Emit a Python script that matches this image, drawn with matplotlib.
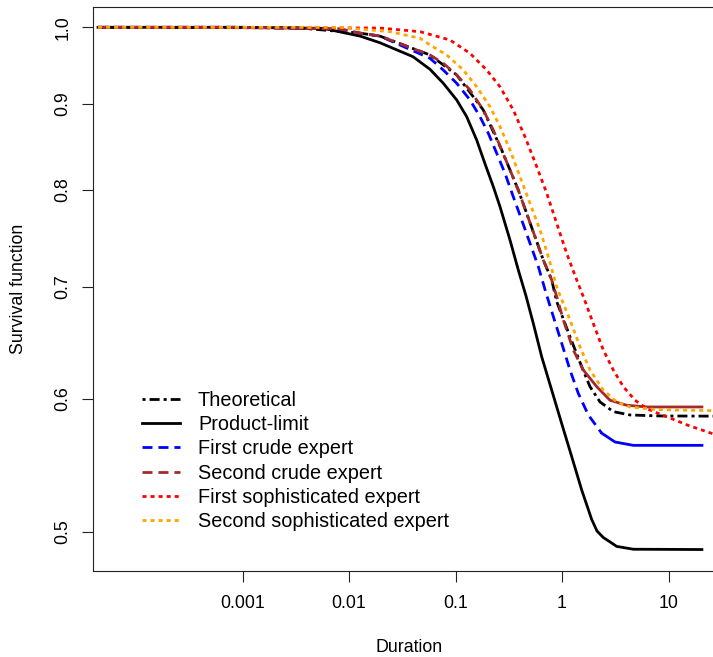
import matplotlib
matplotlib.use('Agg')
import matplotlib.pyplot as plt
from matplotlib.lines import Line2D
from matplotlib.ticker import NullLocator, FixedLocator, FixedFormatter

plt.rcParams['font.family'] = ['Liberation Sans', 'DejaVu Sans']
plt.rcParams['lines.scale_dashes'] = False

# ---------------- data ----------------
theo_x = [4.4e-5, 9.5e-4, 0.00347, 0.0127, 0.0195, 0.0576, 0.1026, 0.1824, 0.2716, 0.3888,
          0.5578, 0.6675, 0.8002, 0.8917, 1.189, 1.531, 1.832, 2.274, 3.032, 4.350, 8.323, 40.0]
theo_y = [1.0, 0.9995, 0.999, 0.992, 0.988, 0.9627, 0.9366, 0.8926, 0.8448, 0.7996,
          0.7499, 0.7263, 0.7067, 0.6860, 0.6536, 0.6272, 0.6103, 0.5976, 0.5897, 0.5870, 0.5862, 0.586]

pl_x = [4.4e-5, 9.5e-4, 0.0057, 0.0127, 0.0195, 0.0399, 0.0576, 0.0768, 0.1026, 0.1274,
        0.1581, 0.1892, 0.2264, 0.2618, 0.3249, 0.3888, 0.4592, 0.5377, 0.6447, 0.8002,
        0.9935, 1.233, 1.531, 1.900, 2.13, 2.443, 2.83, 3.263, 4.673, 20.6]
pl_y = [1.0, 1.0, 0.9986, 0.988, 0.979, 0.9604, 0.9439, 0.9260, 0.9050, 0.8844,
        0.8565, 0.8290, 0.8034, 0.7815, 0.7465, 0.7164, 0.6913, 0.6657, 0.6359, 0.6074,
        0.5801, 0.5544, 0.5295, 0.5085, 0.5005, 0.4960, 0.4930, 0.4900, 0.4881, 0.4879]

c1_x = [4.4e-5, 9.5e-4, 0.0082, 0.0127, 0.0195, 0.0576, 0.0768, 0.1026, 0.1368, 0.1698,
        0.2032, 0.2436, 0.2916, 0.3488, 0.4183, 0.5006, 0.5989, 0.7077, 0.8285, 0.9935,
        1.189, 1.422, 1.766, 2.359, 3.146, 4.673, 20.6]
c1_y = [1.0, 1.0, 0.9977, 0.992, 0.988, 0.9583, 0.9430, 0.9260, 0.9050, 0.8844,
        0.8645, 0.8411, 0.8182, 0.7923, 0.7674, 0.7432, 0.7199, 0.6941, 0.6721, 0.6478,
        0.6244, 0.6047, 0.5870, 0.5725, 0.5656, 0.5630, 0.5630]

c2_x = [4.4e-5, 9.5e-4, 0.0082, 0.0127, 0.0195, 0.0576, 0.0768, 0.1026, 0.1368, 0.1824,
        0.2264, 0.2716, 0.3249, 0.3888, 0.4662, 0.5578, 0.6675, 0.8002, 0.8917, 1.0285,
        1.277, 1.585, 2.118, 2.823, 4.051, 6.243, 20.6]
c2_y = [1.0, 1.0, 0.9977, 0.992, 0.988, 0.9627, 0.9517, 0.9366, 0.9175, 0.8926,
        0.8684, 0.8448, 0.8220, 0.7996, 0.7743, 0.7499, 0.7263, 0.7067, 0.6907, 0.6690,
        0.6418, 0.6244, 0.6103, 0.5990, 0.5949, 0.5935, 0.5935]

s1_x = [4.4e-5, 0.0195, 0.0465, 0.0888, 0.1368, 0.1963, 0.2618, 0.3488, 0.4494, 0.5785,
        0.7184, 0.8917, 1.107, 1.374, 1.609, 1.967, 2.443, 3.032, 3.764, 4.847,
        6.243, 8.323, 10.33, 14.92, 26.17, 72.3]
s1_y = [1.0, 0.9990, 0.9940, 0.9827, 0.9649, 0.9430, 0.9215, 0.8926, 0.8603, 0.8258,
        0.7962, 0.7638, 0.7329, 0.7067, 0.6890, 0.6656, 0.6418, 0.6244, 0.6103, 0.5990,
        0.5922, 0.5876, 0.5846, 0.5790, 0.5720, 0.5593]

s2_x = [4.4e-5, 0.00822, 0.0243, 0.0465, 0.0576, 0.0827, 0.1184, 0.1581, 0.2108, 0.2618,
        0.3249, 0.4033, 0.5006, 0.6215, 0.7437, 0.8977, 1.189, 1.476, 1.832, 2.443,
        3.263, 4.350, 7.199, 10.33, 26.2, 40.0]
s2_y = [1.0, 0.9999, 0.9940, 0.9850, 0.9760, 0.9627, 0.9430, 0.9215, 0.8967, 0.8723,
        0.8448, 0.8144, 0.7852, 0.7569, 0.7297, 0.6989, 0.6689, 0.6446, 0.6244, 0.6074,
        0.5976, 0.5935, 0.5916, 0.5911, 0.5905, 0.5903]

labels = ['Theoretical', 'Product-limit', 'First crude expert', 'Second crude expert',
          'First sophisticated expert', 'Second sophisticated expert']
xtick_vals = [0.001, 0.01, 0.1, 1, 10]
xtick_labels = ['0.001', '0.01', '0.1', '1', '10']
ytick_vals = [0.5, 0.6, 0.7, 0.8, 0.9, 1.0]
ytick_labels = ['0.5', '0.6', '0.7', '0.8', '0.9', '1.0']

# ---------------- styles ----------------
LW = 2.0
DASHDOT = (0, (2.2, 2.9, 7.2, 2.9))
DASHED = (0, (7.2, 4.3))
DOTTED = (0, (2.9, 2.9))
C_BLUE = '#0000FF'
C_BROWN = '#A52A2A'
C_RED = '#FF0000'
C_ORANGE = '#FFA500'

W, H = 713, 657
fig = plt.figure(figsize=(W / 100, H / 100), dpi=100)
L, R, T, B = 93.3, 724.0, 6.7, 571.0
ax = fig.add_axes([L / W, 1 - B / H, (R - L) / W, (B - T) / H])
ax.set_xscale('log')
ax.set_yscale('log')

ax.plot(theo_x, theo_y, color='black', lw=LW, ls=DASHDOT)
ax.plot(pl_x, pl_y, color='black', lw=LW, ls='-')
k1 = c1_x.index(2.359)
ax.plot(c1_x[:k1 + 1], c1_y[:k1 + 1], color=C_BLUE, lw=LW, ls=DASHED)
ax.plot(c1_x[k1:], c1_y[k1:], color=C_BLUE, lw=LW, ls='-')
k2 = c2_x.index(1.585)
ax.plot(c2_x[:k2 + 1], c2_y[:k2 + 1], color=C_BROWN, lw=LW, ls=DASHED)
ax.plot(c2_x[k2:], c2_y[k2:], color=C_BROWN, lw=LW, ls='-')
ax.plot(s1_x, s1_y, color=C_RED, lw=LW, ls=DOTTED)
ax.plot(s2_x, s2_y, color=C_ORANGE, lw=LW, ls=DOTTED)

# axis scale: 106.5 px per decade in x, 1675.6 px per decade in y
ax.set_xlim(10 ** ((L - 562) / 106.5), 10 ** ((R - 562) / 106.5))
ax.set_ylim(10 ** (-(B - 27.3) / 1675.6), 10 ** (-(T - 27.3) / 1675.6))

ax.xaxis.set_major_locator(FixedLocator(xtick_vals))
ax.xaxis.set_major_formatter(FixedFormatter(xtick_labels))
ax.xaxis.set_minor_locator(NullLocator())
ax.yaxis.set_major_locator(FixedLocator(ytick_vals))
ax.yaxis.set_major_formatter(FixedFormatter(ytick_labels))
ax.yaxis.set_minor_locator(NullLocator())

FS = 12.8
ax.tick_params(axis='both', which='major', length=7.6, width=0.8, labelsize=FS,
               colors='#222222', labelcolor='black')
ax.tick_params(axis='x', pad=9.5)
ax.tick_params(axis='y', pad=8.3)
for lbl in ax.get_yticklabels():
    lbl.set_rotation(90)
    lbl.set_va('center')
for s in ax.spines.values():
    s.set_linewidth(0.8)
    s.set_color('#222222')

ax.set_xlabel('Duration', fontsize=FS, va='center')
ax.xaxis.set_label_coords(0.5, (B - 648) / (B - T))
ax.set_ylabel('Survival function', fontsize=FS, va='center')
ax.yaxis.set_label_coords((19 - L) / (R - L), 0.5)

# legend (R-style, no frame)
styles = [dict(color='black', ls=DASHDOT), dict(color='black', ls='-'),
          dict(color=C_BLUE, ls=DASHED), dict(color=C_BROWN, ls=DASHED),
          dict(color=C_RED, ls=DOTTED), dict(color=C_ORANGE, ls=DOTTED)]
LFS = 14.35
for i, (lab, st) in enumerate(zip(labels, styles)):
    yp = 399.3 + 24.08 * i
    fig.add_artist(Line2D([142 / W, 180 / W], [1 - yp / H, 1 - yp / H], lw=LW, **st))
    fig.text(198 / W, 1 - (yp + 7.0) / H, lab, fontsize=LFS, va='baseline', ha='left')

fig.savefig('out.png', dpi=100)
